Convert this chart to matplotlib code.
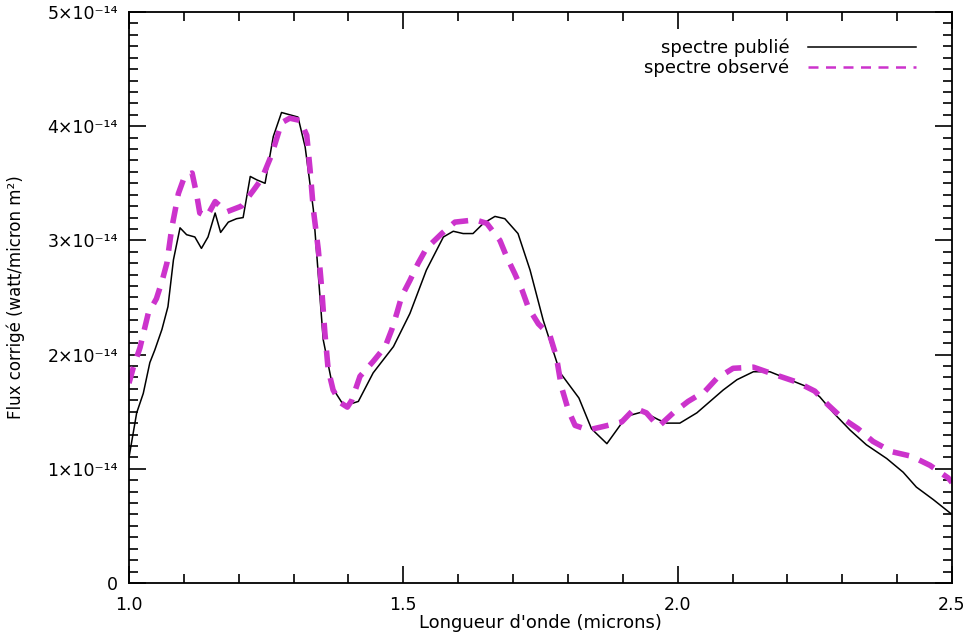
import numpy as np
import matplotlib
matplotlib.use('Agg')
import matplotlib.pyplot as plt
from matplotlib.ticker import MultipleLocator, FixedLocator
from matplotlib.lines import Line2D

# published spectrum (black), wavelength in microns, flux in 1e-14 W/micron/m2
pub_x = [1.000, 1.014, 1.026, 1.038, 1.047, 1.060, 1.071, 1.081, 1.093, 1.105,
         1.120, 1.132, 1.144, 1.157, 1.167, 1.181, 1.196, 1.208, 1.221, 1.233,
         1.248, 1.263, 1.278, 1.293, 1.308, 1.321, 1.336, 1.354, 1.372, 1.392,
         1.418, 1.445, 1.482, 1.512, 1.542, 1.573, 1.591, 1.609, 1.627, 1.646,
         1.667, 1.685, 1.709, 1.731, 1.755, 1.786, 1.820, 1.843, 1.871, 1.907,
         1.937, 1.965, 1.980, 2.004, 2.035, 2.083, 2.108, 2.138, 2.168, 2.199,
         2.235, 2.259, 2.284, 2.314, 2.344, 2.381, 2.411, 2.435, 2.466, 2.500]
pub_y = [1.10, 1.49, 1.66, 1.93, 2.04, 2.22, 2.42, 2.83, 3.11, 3.05,
         3.03, 2.93, 3.03, 3.24, 3.07, 3.16, 3.19, 3.20, 3.56, 3.53,
         3.50, 3.91, 4.12, 4.10, 4.08, 3.82, 3.27, 2.13, 1.70, 1.55,
         1.59, 1.84, 2.07, 2.36, 2.74, 3.03, 3.08, 3.06, 3.06, 3.15,
         3.21, 3.19, 3.06, 2.74, 2.30, 1.84, 1.62, 1.35, 1.22, 1.46,
         1.50, 1.43, 1.40, 1.40, 1.49, 1.69, 1.78, 1.85, 1.85, 1.79,
         1.72, 1.63, 1.49, 1.34, 1.21, 1.09, 0.97, 0.84, 0.73, 0.60]

# observed spectrum (magenta dashed)
obs_x = [1.000, 1.008, 1.020, 1.035, 1.050, 1.060, 1.069, 1.078, 1.090, 1.102,
         1.115, 1.123, 1.129, 1.142, 1.157, 1.178, 1.205, 1.227, 1.242, 1.260,
         1.278, 1.293, 1.312, 1.324, 1.330, 1.336, 1.345, 1.351, 1.357, 1.363,
         1.372, 1.385, 1.398, 1.406, 1.421, 1.445, 1.467, 1.479, 1.488, 1.497,
         1.512, 1.527, 1.542, 1.570, 1.594, 1.631, 1.652, 1.676, 1.688, 1.703,
         1.716, 1.728, 1.746, 1.767, 1.779, 1.788, 1.801, 1.813, 1.837, 1.864,
         1.898, 1.922, 1.943, 1.965, 1.992, 2.019, 2.050, 2.071, 2.101, 2.138,
         2.180, 2.217, 2.250, 2.274, 2.301, 2.329, 2.356, 2.390, 2.426, 2.460,
         2.493, 2.500]
obs_y = [1.75, 1.89, 2.06, 2.36, 2.49, 2.64, 2.80, 3.11, 3.41, 3.57,
         3.59, 3.41, 3.24, 3.21, 3.34, 3.25, 3.30, 3.44, 3.54, 3.75,
         4.03, 4.07, 4.05, 3.92, 3.62, 3.27, 2.92, 2.59, 2.19, 1.87,
         1.69, 1.58, 1.54, 1.60, 1.81, 1.94, 2.07, 2.22, 2.36, 2.51,
         2.65, 2.80, 2.93, 3.06, 3.16, 3.18, 3.15, 3.00, 2.86, 2.71,
         2.57, 2.41, 2.27, 2.17, 1.98, 1.72, 1.51, 1.38, 1.34, 1.37,
         1.41, 1.53, 1.49, 1.37, 1.49, 1.59, 1.68, 1.79, 1.88, 1.89,
         1.82, 1.76, 1.68, 1.56, 1.44, 1.35, 1.24, 1.15, 1.11, 1.03,
         0.92, 0.88]

yticks = [0, 1e-14, 2e-14, 3e-14, 4e-14, 5e-14]
ytick_labels = ['0', '1×10⁻¹⁴', '2×10⁻¹⁴', '3×10⁻¹⁴', '4×10⁻¹⁴', '5×10⁻¹⁴']
xticks = [1.0, 1.5, 2.0, 2.5]
xtick_labels = ['1.0', '1.5', '2.0', '2.5']

mag = '#cc33cc'

fig = plt.figure(figsize=(9.7, 6.32), dpi=100)
ax = fig.add_axes([129/970, 49/632, 823/970, 571/632])

ax.plot(pub_x, np.array(pub_y)*1e-14, color='black', lw=1.1)
ax.plot(obs_x, np.array(obs_y)*1e-14, color=mag, lw=4, dashes=(3, 2))

ax.set_xlim(1.0, 2.5)
ax.set_ylim(0, 5e-14)
ax.xaxis.set_major_locator(FixedLocator(xticks))
ax.set_xticklabels(xtick_labels)
ax.xaxis.set_minor_locator(MultipleLocator(0.1))
ax.yaxis.set_major_locator(FixedLocator(yticks))
ax.set_yticklabels(ytick_labels)
ax.yaxis.set_minor_locator(MultipleLocator(1e-15))

ax.tick_params(which='both', direction='in', top=True, right=True, width=1.2, labelsize=12.5)
ax.tick_params(which='major', length=12.5, pad=9)
ax.tick_params(which='minor', length=6.5)
ax.tick_params(axis='y', which='major', pad=8)
for s in ax.spines.values():
    s.set_linewidth(1.3)

ax.set_xlabel("Longueur d'onde (microns)", fontsize=13, labelpad=0)
ax.set_ylabel('Flux corrigé (watt/micron m²)', fontsize=12, labelpad=16)

handles = [Line2D([0], [0], color='black', lw=1.1),
           Line2D([0], [0], color=mag, lw=1.8, dashes=(4, 3))]
leg = ax.legend(handles, ['spectre publié', 'spectre observé'], loc='upper right',
                bbox_to_anchor=(0.976, 0.982), frameon=False, fontsize=13,
                markerfirst=False, handlelength=6.0, handletextpad=1.0,
                labelspacing=0.1)
for t in leg.get_texts():
    t.set_ha('right')

fig.savefig('out.png', dpi=100)
